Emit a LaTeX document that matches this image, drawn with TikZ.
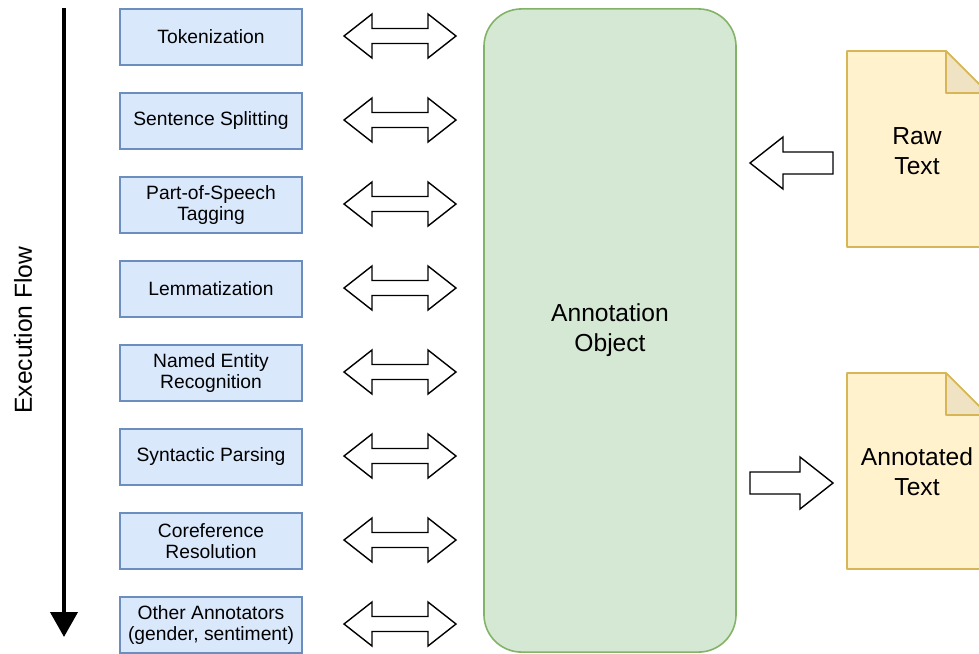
\documentclass[tikz,border=0pt]{standalone}
\usepackage{fontspec}
\setmainfont{Liberation Sans}
\usetikzlibrary{arrows.meta, positioning}
\definecolor{stepblue}{HTML}{DAE8FC}
\definecolor{stepedge}{HTML}{6C8EBF}
\definecolor{objgreen}{HTML}{D5E8D4}
\definecolor{objedge}{HTML}{82B366}
\definecolor{docyellow}{HTML}{FFF2CC}
\definecolor{docedge}{HTML}{D6B656}
\definecolor{docfold}{HTML}{EFE3C3}

\tikzset{
  annotator/.style={draw=stepedge, fill=stepblue, line width=0.04cm, minimum width=4.55cm, minimum height=1.4cm, inner sep=0pt, align=center, font=\fontsize{13.7}{14.6}\selectfont},
  bigtext/.style={align=center, font=\fontsize{17.5}{21.3}\selectfont},
  blockarrow/.style={draw=black, fill=white, line width=0.035cm, line join=miter},
  docsheet/.style={draw=docedge, fill=docyellow, line width=0.04cm, line join=round}
}

\begin{document}
\begin{tikzpicture}[x=0.025cm, y=-0.025cm]
  \useasboundingbox (0,0) rectangle (979,653);

  % Execution flow (LEFT)
  \coordinate (flowtop) at (64,8);
  \coordinate (flowend) at (64,637);
  \draw[line width=0.1cm, -{Triangle[length=0.625cm, width=0.675cm]}] (flowtop) -- (flowend);
  \node[bigtext, rotate=90] (flowlabel) at (23,330) {Execution Flow};

  % Annotators with their double block arrows
  \foreach \name [count=\i from 0] in {Tokenization, Sentence Splitting, Part-of-Speech\\Tagging, Lemmatization, Named Entity\\Recognition, Syntactic Parsing, Coreference\\Resolution, {Other Annotators\\(gender, sentiment)}} {
    \node[annotator] (ann\i) at (211, 37+84*\i) {\name};
    \coordinate (link\i) at (344, 36+84*\i);
    \draw[blockarrow] (link\i) -- ++(28,-22) -- ++(0,14.5) -- ++(56,0) -- ++(0,-14.5) -- ++(28,22)
      -- ++(-28,22) -- ++(0,-14.5) -- ++(-56,0) -- ++(0,14.5) -- cycle;
  }

  % Annotation object (CENTER)
  \node[draw=objedge, fill=objgreen, line width=0.04cm, rounded corners=0.94cm, minimum width=6.3cm, minimum height=16.075cm, bigtext] (annobj) at (610,330.5) {Annotation\\Object};

  % Raw text document
  \filldraw[docsheet] (847,51) -- (946,51) -- (988,93) -- (988,247) -- (847,247) -- cycle;
  \filldraw[docsheet, fill=docfold] (946,51) -- (946,93) -- (988,93) -- cycle;
  \node[bigtext] (rawtext) at (917,151) {Raw\\Text};
  \coordinate (rawin) at (750,163);
  \draw[blockarrow] (rawin) -- ++(33,-26) -- ++(0,15) -- ++(50,0) -- ++(0,22) -- ++(-50,0) -- ++(0,15) -- cycle;

  % Annotated text document
  \filldraw[docsheet] (847,373) -- (946,373) -- (988,415) -- (988,569) -- (847,569) -- cycle;
  \filldraw[docsheet, fill=docfold] (946,373) -- (946,415) -- (988,415) -- cycle;
  \node[bigtext] (annotext) at (917,472) {Annotated\\Text};
  \coordinate (annoout) at (833,483);
  \draw[blockarrow] (annoout) -- ++(-33,-26) -- ++(0,15) -- ++(-50,0) -- ++(0,22) -- ++(50,0) -- ++(0,15) -- cycle;
\end{tikzpicture}
\end{document}
